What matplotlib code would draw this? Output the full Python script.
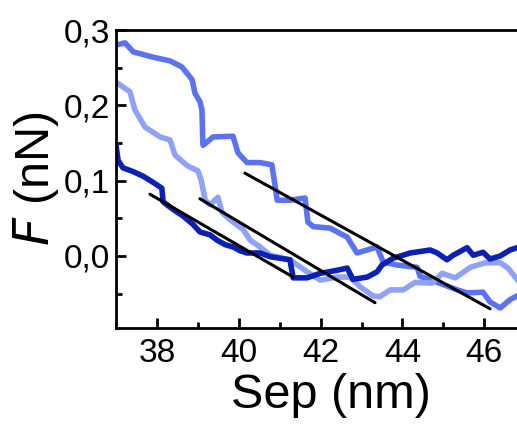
import matplotlib
matplotlib.use("Agg")
import matplotlib.pyplot as plt
from matplotlib.ticker import MultipleLocator, FuncFormatter

plt.rcParams["font.family"] = ["Liberation Sans", "DejaVu Sans"]

# medium blue trace
sep_mid = [37.0, 37.22, 37.42, 37.90, 38.32, 38.61, 38.86, 38.93, 39.05, 39.10, 39.12, 39.13,
           39.37, 39.86, 39.98, 40.20, 40.52, 40.81, 40.94, 41.25, 41.62, 41.69, 41.82, 42.23,
           42.65, 42.89, 43.14, 43.38, 43.53, 43.87, 44.36, 44.43, 44.85, 45.34, 45.58, 45.97,
           46.14, 46.39, 46.63, 46.80]
f_mid = [0.280, 0.283, 0.271, 0.264, 0.259, 0.251, 0.234, 0.216, 0.205, 0.194, 0.150, 0.147,
         0.158, 0.159, 0.137, 0.124, 0.124, 0.121, 0.074, 0.074, 0.077, 0.045, 0.039, 0.037,
         0.025, 0.004, 0.008, 0.012, -0.008, -0.012, -0.015, -0.027, -0.035, -0.045, -0.049, -0.048,
         -0.061, -0.069, -0.058, -0.053]

# light blue trace
sep_light = [37.02, 37.34, 37.46, 37.71, 38.08, 38.32, 38.44, 38.74, 39.00, 39.08, 39.18, 39.30,
             39.49, 39.59, 39.79, 40.11, 40.28, 40.52, 40.77, 41.25, 41.67, 41.99, 42.40, 42.72,
             42.97, 43.28, 43.45, 43.70, 44.02, 44.31, 44.73, 44.97, 45.29, 45.66, 46.02, 46.39,
             46.58, 46.80]
f_light = [0.230, 0.218, 0.194, 0.171, 0.158, 0.154, 0.134, 0.120, 0.113, 0.101, 0.074, 0.068,
           0.078, 0.058, 0.048, 0.035, 0.021, 0.012, 0.001, -0.005, -0.021, -0.032, -0.028, -0.028,
           -0.041, -0.053, -0.054, -0.045, -0.045, -0.035, -0.036, -0.023, -0.029, -0.015, -0.009, -0.009,
           -0.016, -0.031]

# dark blue trace
sep_dark = [37.0, 37.05, 37.17, 37.42, 37.66, 37.90, 38.12, 38.15, 38.39, 38.64, 38.88, 39.05,
            39.30, 39.47, 39.67, 39.86, 40.03, 40.20, 40.52, 40.77, 41.25, 41.33, 41.67, 41.99,
            42.40, 42.65, 42.79, 43.14, 43.38, 43.50, 43.77, 44.19, 44.68, 44.85, 45.09, 45.24,
            45.58, 45.73, 45.97, 46.14, 46.39, 46.63, 46.80]
f_dark = [0.147, 0.127, 0.117, 0.112, 0.106, 0.098, 0.090, 0.072, 0.062, 0.053, 0.042, 0.032,
          0.028, 0.021, 0.015, 0.012, 0.007, 0.004, 0.004, -0.001, -0.005, -0.029, -0.029, -0.023,
          -0.019, -0.016, -0.031, -0.028, -0.021, -0.012, -0.003, 0.004, 0.008, 0.004, -0.005, 0.001,
          0.011, 0.001, 0.005, -0.004, 0.000, 0.008, 0.011]

# linear fits (start, end)
fit_x = [[37.83, 41.33], [39.05, 43.33], [40.15, 46.14]]
fit_y = [[0.082, -0.028], [0.076, -0.062], [0.110, -0.070]]

fig = plt.figure(figsize=(5.17, 4.25), dpi=100)
ax = fig.add_axes([0.2244, 0.2282, 0.7756, 0.7012])

ax.plot(sep_mid, f_mid, color="#5b73f3", lw=4.0)
ax.plot(sep_light, f_light, color="#8fa2f8", lw=4.0)
ax.plot(sep_dark, f_dark, color="#0b20b4", lw=4.0)
for xs, ys in zip(fit_x, fit_y):
    ax.plot(xs, ys, color="black", lw=2.2, solid_capstyle="round")

ax.set_xlim(37.0, 46.8)
ax.set_ylim(-0.0956, 0.3)
ax.xaxis.set_major_locator(MultipleLocator(2))
ax.xaxis.set_minor_locator(MultipleLocator(1))
ax.yaxis.set_major_locator(MultipleLocator(0.1))
ax.yaxis.set_minor_locator(MultipleLocator(0.05))
ax.yaxis.set_major_formatter(FuncFormatter(lambda v, p: f"{v:.1f}".replace(".", ",").replace("-0,0", "0,0")))

ax.tick_params(which="major", direction="in", length=7, width=2.0, labelsize=24)
ax.tick_params(axis="x", which="major", pad=7)
ax.tick_params(axis="y", which="major", pad=4)
ax.tick_params(which="minor", direction="in", length=4, width=2.0)
ax.tick_params(top=False, right=False)
for s in ["left", "bottom", "top"]:
    ax.spines[s].set_linewidth(2.0)
ax.spines["right"].set_visible(False)

ax.set_xlabel("Sep (nm)", fontsize=35)
ax.xaxis.set_label_coords(0.535, -0.15)
ax.set_ylabel(r"$\it{F}$ (nN)", fontsize=35, labelpad=2)

fig.savefig("out.png", dpi=100)
